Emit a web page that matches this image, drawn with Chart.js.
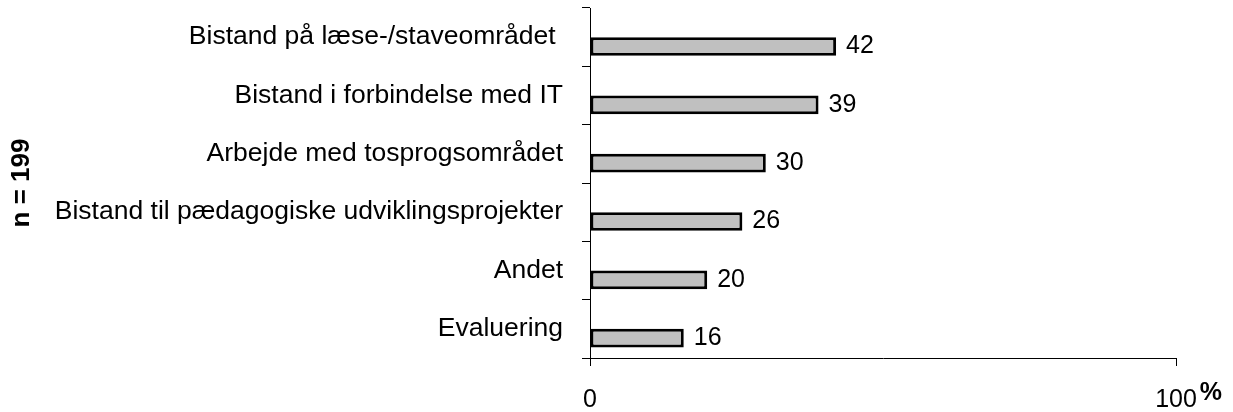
<!DOCTYPE html>
<html>
<head>
<meta charset="utf-8">
<script src="https://cdn.jsdelivr.net/npm/chart.js@4/dist/chart.umd.min.js"></script>
<style>
  html, body { margin: 0; padding: 0; background: #fff; }
  #wrap { width: 1233px; height: 412px; }
</style>
</head>
<body>
<div id="wrap"><canvas id="chart" width="1233" height="412"></canvas></div>
<script>
const categories = [
  "Bistand på læse-/staveområdet ",
  "Bistand i forbindelse med IT",
  "Arbejde med tosprogsområdet",
  "Bistand til pædagogiske udviklingsprojekter",
  "Andet",
  "Evaluering",
];
const shares = [42, 39, 30, 26, 20, 16];
// empty slot so the real bars sit in the lower half of each row, as in the original
const spacer = [null, null, null, null, null, null];
const xTickValues = [0, 100];
const sampleNote = "n = 199";
const unitMark = "%";

const FONT = "'Liberation Sans', Arial, sans-serif";

const valueLabels = {
  id: "valueLabels",
  afterDatasetsDraw(chart) {
    const ctx = chart.ctx;
    const meta = chart.getDatasetMeta(1);
    ctx.save();
    ctx.font = `25px ${FONT}`;
    ctx.fillStyle = "#000";
    ctx.textAlign = "left";
    ctx.textBaseline = "middle";
    meta.data.forEach((bar, i) => {
      ctx.fillText(String(shares[i]), bar.x + 10, bar.y);
    });
    ctx.restore();
  },
};

const percentMark = {
  id: "percentMark",
  afterDraw(chart) {
    const ctx = chart.ctx;
    const x = chart.scales.x;
    const last = xTickValues[xTickValues.length - 1];
    ctx.save();
    ctx.font = `25px ${FONT}`;
    const half = ctx.measureText(String(last)).width / 2;
    ctx.font = `bold 25px ${FONT}`;
    ctx.fillStyle = "#000";
    ctx.textAlign = "left";
    ctx.textBaseline = "alphabetic";
    ctx.fillText(unitMark, x.getPixelForValue(last) + half + 3, x.bottom - 12);
    ctx.restore();
  },
};

new Chart(document.getElementById("chart"), {
  type: "bar",
  data: {
    labels: categories,
    datasets: [
      { data: spacer },
      {
        data: shares,
        backgroundColor: "#c0c0c0",
        borderColor: "#000",
        borderWidth: 3,
        borderSkipped: false,
      },
    ],
  },
  options: {
    indexAxis: "y",
    responsive: false,
    animation: false,
    devicePixelRatio: 1,
    categoryPercentage: 0.64,
    barPercentage: 1.0,
    layout: { padding: { left: 0, top: 8, right: 57, bottom: 0 } },
    plugins: {
      legend: { display: false },
      tooltip: { enabled: false },
    },
    scales: {
      x: {
        min: 0,
        max: 100,
        afterBuildTicks: (scale) => {
          scale.ticks = xTickValues.map((v) => ({ value: v }));
        },
        afterFit: (scale) => {
          scale.height = 54;
          scale.paddingLeft = 0;
          scale.paddingRight = 0;
        },
        border: { display: true, color: "#000", width: 1 },
        grid: { drawOnChartArea: false, drawTicks: true, tickLength: 8, color: "#000" },
        ticks: { color: "#000", padding: 19, font: { family: FONT, size: 25 }, maxRotation: 0 },
      },
      y: {
        afterFit: (scale) => {
          scale.width = 590;
          scale.paddingTop = 0;
          scale.paddingBottom = 0;
        },
        border: { display: true, color: "#000", width: 1 },
        grid: { offset: true, drawOnChartArea: false, drawTicks: true, tickLength: 8, color: "#000" },
        ticks: { color: "#000", padding: 19, font: { family: FONT, size: 26.5 } },
        title: {
          display: true,
          text: sampleNote,
          color: "#000",
          font: { family: FONT, size: 26, weight: "bold" },
          padding: { top: 6, bottom: 0 },
        },
      },
    },
  },
  plugins: [valueLabels, percentMark],
});
</script>
</body>
</html>
